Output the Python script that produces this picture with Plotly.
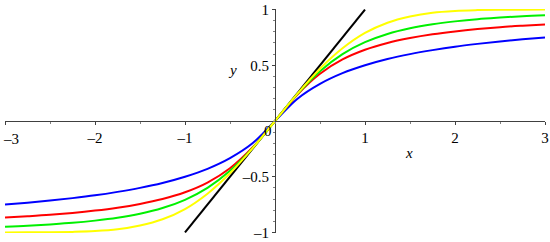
import plotly.graph_objects as go

x_vals = [-3, -2.75, -2.5, -2.25, -2, -1.75, -1.5, -1.25, -1, -0.75, -0.5, -0.25, 0,
          0.25, 0.5, 0.75, 1, 1.25, 1.5, 1.75, 2, 2.25, 2.5, 2.75, 3]

# blue curve (lowest)
blue_y = [-0.75, -0.733, -0.714, -0.692, -0.667, -0.636, -0.6, -0.556, -0.5, -0.429, -0.333, -0.2, 0,
          0.2, 0.333, 0.429, 0.5, 0.556, 0.6, 0.636, 0.667, 0.692, 0.714, 0.733, 0.75]
# red curve
red_y = [-0.866, -0.855, -0.842, -0.825, -0.804, -0.778, -0.744, -0.7, -0.639, -0.552, -0.424, -0.238, 0,
         0.238, 0.424, 0.552, 0.639, 0.7, 0.744, 0.778, 0.804, 0.825, 0.842, 0.855, 0.866]
# green curve
green_y = [-0.949, -0.94, -0.928, -0.914, -0.894, -0.868, -0.832, -0.781, -0.707, -0.6, -0.447, -0.243, 0,
           0.243, 0.447, 0.6, 0.707, 0.781, 0.832, 0.868, 0.894, 0.914, 0.928, 0.94, 0.949]
# yellow curve (highest)
yellow_y = [-1.0, -0.999, -0.998, -0.995, -0.988, -0.972, -0.938, -0.882, -0.79, -0.652, -0.469, -0.246, 0,
            0.246, 0.469, 0.652, 0.79, 0.882, 0.938, 0.972, 0.988, 0.995, 0.998, 0.999, 1.0]

# black straight segment
line_x = [-1, 1]
line_y = [-1, 1]

# -3 gets its own label (see below) so it is not cut at the page edge
x_ticks = [-3, -2, -1, 1, 2, 3]
x_tick_text = ['', '\u20132', '\u20131', '1', '2', '3']
y_ticks = [-1, -0.5, 0.5, 1]
y_tick_text = ['\u20131', '\u20130.5', '0.5', '1']

serif = 'Liberation Serif, DejaVu Serif, serif'

fig = go.Figure()

fig.add_trace(go.Scatter(x=line_x, y=line_y, mode='lines',
                         line=dict(color='black', width=2)))

curves = [(blue_y, '#0000ff'), (red_y, '#ff0000'),
          (green_y, '#00f000'), (yellow_y, '#ffff00')]
for ys, col in curves:
    fig.add_trace(go.Scatter(x=x_vals, y=ys, mode='lines',
                             line=dict(color=col, width=2, shape='spline', smoothing=1.0)))

tick_font = dict(family=serif, size=15, color='black')

fig.update_layout(
    width=550, height=242,
    margin=dict(l=5, r=5, t=9, b=9),
    paper_bgcolor='white', plot_bgcolor='white',
    showlegend=False,
    font=dict(family=serif),
    xaxis=dict(range=[-3, 3], anchor='free', position=0.5, automargin=False,
               showgrid=False, zeroline=False,
               showline=True, linecolor='#404040', linewidth=1,
               tickvals=x_ticks, ticktext=x_tick_text, ticklabeloverflow='allow',
               ticks='outside', ticklen=3, tickcolor='#404040',
               minor=dict(dtick=0.5, tick0=0, ticks='outside', ticklen=2, tickcolor='#808080'),
               tickfont=tick_font),
    yaxis=dict(range=[-1.005, 1.005], anchor='free', position=0.5, automargin=False,
               showgrid=False, zeroline=False,
               showline=True, linecolor='#404040', linewidth=1,
               tickvals=y_ticks, ticktext=y_tick_text, ticklabeloverflow='allow',
               ticks='outside', ticklen=3, tickcolor='#404040',
               minor=dict(dtick=0.1, tick0=0, ticks='outside', ticklen=2, tickcolor='#808080'),
               tickfont=tick_font),
)

fig.add_annotation(x=-3, y=0, text='\u20133', showarrow=False, xanchor='left', yanchor='top',
                   xshift=-4, yshift=-8, font=tick_font)
fig.add_annotation(x=0, y=0, text='0', showarrow=False, xanchor='right', yanchor='top',
                   xshift=-1, yshift=0, font=tick_font)
fig.add_annotation(x=-0.47, y=0.46, text='<i>y</i>', showarrow=False,
                   font=dict(family=serif, size=15, color='black'))
fig.add_annotation(x=1.49, y=-0.29, text='<i>x</i>', showarrow=False,
                   font=dict(family=serif, size=15, color='black'))

# the page body has a default margin; drop it so the figure fills the window
fig.write_html("out.html", config={'displayModeBar': False},
               post_script="document.body.style.margin='0';")
